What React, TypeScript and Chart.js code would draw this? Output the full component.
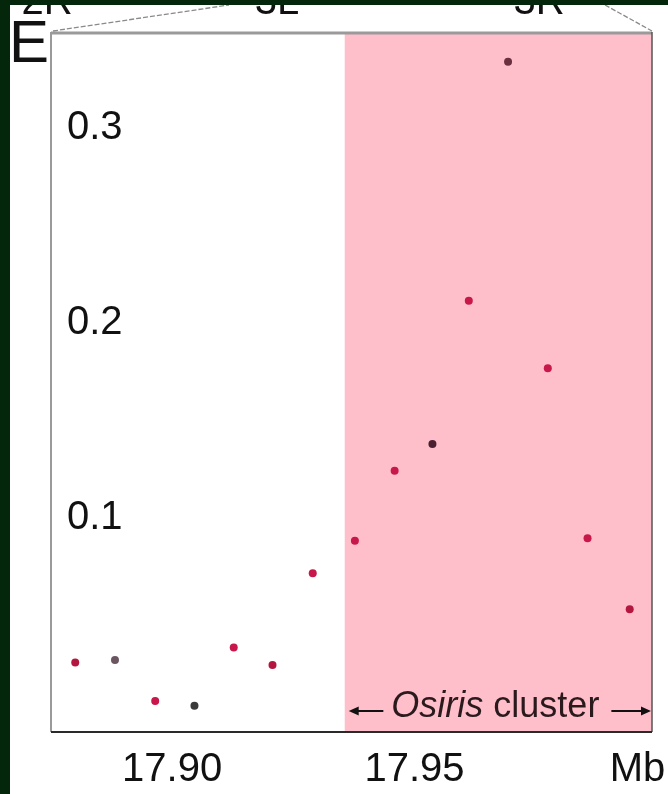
import { useEffect, useRef } from "react";
import { Chart, registerables } from "chart.js";

Chart.register(...registerables);

// ---- data ----
const positionsMb = [17.88, 17.8882, 17.8965, 17.9046, 17.9127, 17.9207, 17.929, 17.9377, 17.9459, 17.9537, 17.9612, 17.9693, 17.9775, 17.9857, 17.9944];
const values = [0.0256, 0.0269, 0.0059, 0.0035, 0.0333, 0.0244, 0.0714, 0.0881, 0.124, 0.1377, 0.2112, 0.3338, 0.1765, 0.0894, 0.0529];
const xTickValues = [17.9, 17.95, 17.996];
const xTickLabels = ["17.90", "17.95", "Mb"];
const yTickValues = [0.1, 0.2, 0.3];
const yTickLabels = ["0.1", "0.2", "0.3"];
const xMin = 17.875;
const xMax = 17.999;
const yMin = -0.01;
const yMax = 0.349;
const clusterStartMb = 17.9356;
const clusterItalic = "Osiris";
const clusterRest = " cluster";
const panelLetter = "E";
const upperLabels = ["2R", "3L", "3R"];

// styles
const pointColors = ["#b3173f", "#6b5560", "#c8174a", "#3a3a3a", "#c8174a", "#b3173f", "#c8174a", "#c8174a", "#c8174a", "#4a2030", "#c8174a", "#6a3040", "#c8174a", "#c8174a", "#b3173f"];
const FONT = "'Liberation Sans', Arial, Helvetica, sans-serif";

const decorPlugin = {
  id: "decor",
  beforeDatasetsDraw(chart: any) {
    const { ctx, chartArea, scales } = chart;
    const x0 = scales.x.getPixelForValue(clusterStartMb);
    ctx.save();
    ctx.fillStyle = "#ffbfca";
    ctx.fillRect(x0, chartArea.top, chartArea.right - x0, chartArea.bottom - chartArea.top);
    ctx.restore();
  },
  afterDraw(chart: any) {
    const { ctx, chartArea, scales } = chart;
    const { left, right, top, bottom } = chartArea;
    ctx.save();
    // frame
    ctx.strokeStyle = "#9a9a9a";
    ctx.lineWidth = 3;
    ctx.beginPath();
    ctx.moveTo(left, top + 1);
    ctx.lineTo(right, top + 1);
    ctx.stroke();
    ctx.lineWidth = 2;
    ctx.beginPath();
    ctx.moveTo(left, top);
    ctx.lineTo(left, bottom);
    ctx.stroke();
    ctx.strokeStyle = "#555";
    ctx.lineWidth = 1.5;
    ctx.beginPath();
    ctx.moveTo(right, top);
    ctx.lineTo(right, bottom);
    ctx.stroke();
    ctx.strokeStyle = "#2a2a2a";
    ctx.lineWidth = 2;
    ctx.beginPath();
    ctx.moveTo(left, bottom);
    ctx.lineTo(right, bottom);
    ctx.stroke();

    // zoom lines from upper panel
    ctx.strokeStyle = "#8a8a8a";
    ctx.lineWidth = 1.3;
    ctx.setLineDash([5, 2]);
    ctx.beginPath();
    ctx.moveTo(left + 2, top - 1);
    ctx.lineTo(left + 178, 0);
    ctx.stroke();
    ctx.beginPath();
    ctx.moveTo(right - 47, 0);
    ctx.lineTo(right, top - 1);
    ctx.stroke();
    ctx.setLineDash([]);

    // upper panel labels (cut off)
    ctx.fillStyle = "#111";
    ctx.font = `40px ${FONT}`;
    ctx.textAlign = "center";
    ctx.textBaseline = "alphabetic";
    const upperX = [left - 4, left + 226, left + 488];
    upperLabels.forEach((t, i) => ctx.fillText(t, upperX[i], 9));

    // panel letter
    ctx.font = `60px ${FONT}`;
    ctx.textAlign = "left";
    ctx.fillText(panelLetter, -1, 57);

    // cluster annotation
    const x0 = scales.x.getPixelForValue(clusterStartMb);
    const x1 = right;
    const mid = (x0 + x1) / 2;
    const fs = 36;
    ctx.font = `italic ${fs}px ${FONT}`;
    const w1 = ctx.measureText(clusterItalic).width;
    ctx.font = `${fs}px ${FONT}`;
    const w2 = ctx.measureText(clusterRest).width;
    const tl = mid - (w1 + w2) / 2 - 3;
    const base = bottom - 15;
    ctx.fillStyle = "#2a1a1e";
    ctx.font = `italic ${fs}px ${FONT}`;
    ctx.fillText(clusterItalic, tl, base);
    ctx.font = `${fs}px ${FONT}`;
    ctx.fillText(clusterRest, tl + w1, base);
    const ay = bottom - 21;
    ctx.strokeStyle = "#111";
    ctx.fillStyle = "#111";
    ctx.lineWidth = 2;
    const drawArrow = (from: number, to: number) => {
      const dir = Math.sign(to - from);
      ctx.beginPath();
      ctx.moveTo(from, ay);
      ctx.lineTo(to - dir * 8, ay);
      ctx.stroke();
      ctx.beginPath();
      ctx.moveTo(to, ay);
      ctx.lineTo(to - dir * 10, ay - 4.5);
      ctx.lineTo(to - dir * 10, ay + 4.5);
      ctx.closePath();
      ctx.fill();
    };
    drawArrow(tl - 8, x0 + 4);
    drawArrow(tl + w1 + w2 + 12, x1 - 1);
    ctx.restore();
  },
};

export default function App() {
  const ref = useRef<HTMLCanvasElement | null>(null);
  useEffect(() => {
    if (!ref.current) return;
    const chart = new Chart(ref.current, {
      type: "scatter",
      data: {
        datasets: [
          {
            data: positionsMb.map((x, i) => ({ x, y: values[i] })),
            pointRadius: 4,
            pointHoverRadius: 4,
            pointBackgroundColor: pointColors,
            pointBorderWidth: 0,
            borderWidth: 0,
          },
        ],
      },
      options: {
        responsive: false,
        animation: false,
        events: [],
        layout: { padding: { left: 41, top: 27, right: 16, bottom: 0 } },
        plugins: { legend: { display: false }, tooltip: { enabled: false } },
        scales: {
          x: {
            type: "linear",
            min: xMin,
            max: xMax,
            grid: { display: false, drawTicks: false },
            border: { display: false },
            afterFit: (s: any) => {
              s.height = 62;
              s.paddingLeft = 0;
              s.paddingRight = 0;
            },
            afterBuildTicks: (s: any) => {
              s.ticks = xTickValues.map((v) => ({ value: v }));
            },
            ticks: {
              autoSkip: false,
              maxRotation: 0,
              padding: 14,
              color: "#111",
              font: { family: FONT, size: 40 },
              callback: (_v: any, i: number) => xTickLabels[i],
            },
          },
          y: {
            type: "linear",
            min: yMin,
            max: yMax,
            grid: { display: false, drawTicks: false },
            border: { display: false },
            afterFit: (s: any) => {
              s.width = 0;
              s.paddingTop = 0;
              s.paddingBottom = 0;
            },
            afterBuildTicks: (s: any) => {
              s.ticks = yTickValues.map((v) => ({ value: v }));
            },
            ticks: {
              mirror: true,
              padding: 16,
              color: "#111",
              font: { family: FONT, size: 40 },
              callback: (_v: any, i: number) => yTickLabels[i],
            },
          },
        },
      },
      plugins: [decorPlugin],
    });
    return () => chart.destroy();
  }, []);
  return (
    <div style={{ position: "fixed", left: 0, top: 0, width: 668, height: 794, background: "#04260a" }}>
      <div style={{ position: "absolute", left: 10, top: 5, width: 658, height: 789, background: "#ffffff" }}>
        <canvas ref={ref} width={658} height={789} style={{ display: "block", width: 658, height: 789 }} />
      </div>
    </div>
  );
}
